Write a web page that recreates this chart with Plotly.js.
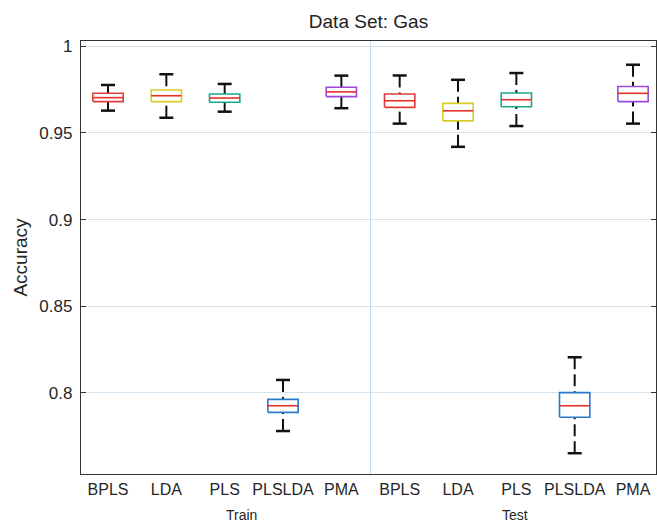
<!DOCTYPE html>
<html>
<head>
<meta charset="utf-8">
<script src="https://cdn.plot.ly/plotly-3.0.1.min.js"></script>
<style>html,body{margin:0;padding:0;background:#fff;}#chart{width:657px;height:525px;}</style>
</head>
<body>
<div id="chart"></div>
<script>
// ---- data ----
const methods = ['BPLS', 'LDA', 'PLS', 'PLSLDA', 'PMA'];
const groups = ['Train', 'Test'];
const tickLabels = ['BPLS', 'LDA', 'PLS', 'PLSLDA', 'PMA', 'BPLS', 'LDA', 'PLS', 'PLSLDA', 'PMA'];
// order: Train BPLS..PMA, Test BPLS..PMA
const upperWhisker = [0.9777, 0.9839, 0.9783, 0.8074, 0.9831, 0.9832, 0.9807, 0.9846, 0.8205, 0.9894];
const q3 = [0.9729, 0.9748, 0.9725, 0.7962, 0.9764, 0.9725, 0.9671, 0.9731, 0.8001, 0.9768];
const medians = [0.9704, 0.9715, 0.9702, 0.7925, 0.9737, 0.9686, 0.9628, 0.9692, 0.7925, 0.9729];
const q1 = [0.9681, 0.9681, 0.9677, 0.7887, 0.9710, 0.9648, 0.9570, 0.9651, 0.7859, 0.9681];
const lowerWhisker = [0.9629, 0.9588, 0.9623, 0.7779, 0.9643, 0.9554, 0.9420, 0.9540, 0.7651, 0.9554];
const yTicks = [0.8, 0.85, 0.9, 0.95, 1];
const yTickText = ['0.8', '0.85', '0.9', '0.95', '1'];

// ---- styles ----
const methodColors = ['#e03c3c', '#d6cf2a', '#1aa88a', '#2a78c8', '#9a48d6'];
const medianColor = '#e8302a';
const boxHalf = 0.26;
const capHalf = 0.12;

const positions = tickLabels.map((_, i) => i + 1);
const traces = [];

// whiskers (dashed)
const wx = [], wy = [];
positions.forEach((p, i) => {
  wx.push(p, p, null, p, p, null);
  wy.push(upperWhisker[i], q3[i], null, lowerWhisker[i], q1[i], null);
});
traces.push({type: 'scatter', mode: 'lines', x: wx, y: wy, hoverinfo: 'skip',
  line: {color: '#111', width: 2, dash: '12px,5px'}, connectgaps: false, showlegend: false});

// caps
const cx = [], cy = [];
positions.forEach((p, i) => {
  cx.push(p - capHalf, p + capHalf, null, p - capHalf, p + capHalf, null);
  cy.push(upperWhisker[i], upperWhisker[i], null, lowerWhisker[i], lowerWhisker[i], null);
});
traces.push({type: 'scatter', mode: 'lines', x: cx, y: cy, hoverinfo: 'skip',
  line: {color: '#111', width: 2.5}, showlegend: false});

// boxes per method
methods.forEach((m, mi) => {
  const bx = [], by = [];
  groups.forEach((g, gi) => {
    const i = gi * methods.length + mi;
    const p = positions[i];
    bx.push(p - boxHalf, p + boxHalf, p + boxHalf, p - boxHalf, p - boxHalf, null);
    by.push(q1[i], q1[i], q3[i], q3[i], q1[i], null);
  });
  traces.push({type: 'scatter', mode: 'lines', x: bx, y: by, name: m,
    line: {color: methodColors[mi], width: 1.6}, showlegend: false});
});

// medians
const mx = [], my = [];
positions.forEach((p, i) => {
  mx.push(p - boxHalf, p + boxHalf, null);
  my.push(medians[i], medians[i], null);
});
traces.push({type: 'scatter', mode: 'lines', x: mx, y: my, hoverinfo: 'skip',
  line: {color: medianColor, width: 1.6}, showlegend: false});

const fontFam = 'Liberation Sans, Arial, Helvetica, sans-serif';
const layout = {
  width: 657, height: 525,
  margin: {l: 81, r: 1, t: 41, b: 51},
  paper_bgcolor: '#fff', plot_bgcolor: '#fff',
  font: {family: fontFam, color: '#262626', size: 17},
  title: {text: 'Data Set: Gas', font: {size: 19, color: '#222', family: fontFam},
    x: 0.5, xref: 'paper', y: 1 - 21 / 525, yref: 'container', yanchor: 'middle'},
  xaxis: {range: [0.537, 10.394], tickvals: positions, ticktext: tickLabels,
    ticks: '', showgrid: false, zeroline: false, showline: true, linecolor: '#333',
    linewidth: 1.2, mirror: true, tickfont: {size: 16}, ticklabelstandoff: 1},
  yaxis: {range: [0.7531, 1.0031], tickvals: yTicks, ticktext: yTickText,
    ticks: 'inside', ticklen: 5, tickcolor: '#333', showgrid: true, gridcolor: '#d3e2ef',
    zeroline: false, showline: true, linecolor: '#333', linewidth: 1.2, mirror: 'ticks',
    tickfont: {size: 17}, ticklabelstandoff: 4,
    title: {text: 'Accuracy', font: {size: 19}, standoff: 6}},
  shapes: [{type: 'line', xref: 'x', yref: 'paper', x0: 5.5, x1: 5.5, y0: 0, y1: 1,
    line: {color: '#c6d9ea', width: 1}, layer: 'below'}],
  annotations: [
    {text: groups[0], x: 3.28, xref: 'x', y: -0.095, yref: 'paper', showarrow: false,
      yanchor: 'middle', font: {size: 14}},
    {text: groups[1], x: 7.98, xref: 'x', y: -0.095, yref: 'paper', showarrow: false,
      yanchor: 'middle', font: {size: 14}}
  ]
};

Plotly.newPlot('chart', traces, layout, {displayModeBar: false, staticPlot: true});
</script>
</body>
</html>
